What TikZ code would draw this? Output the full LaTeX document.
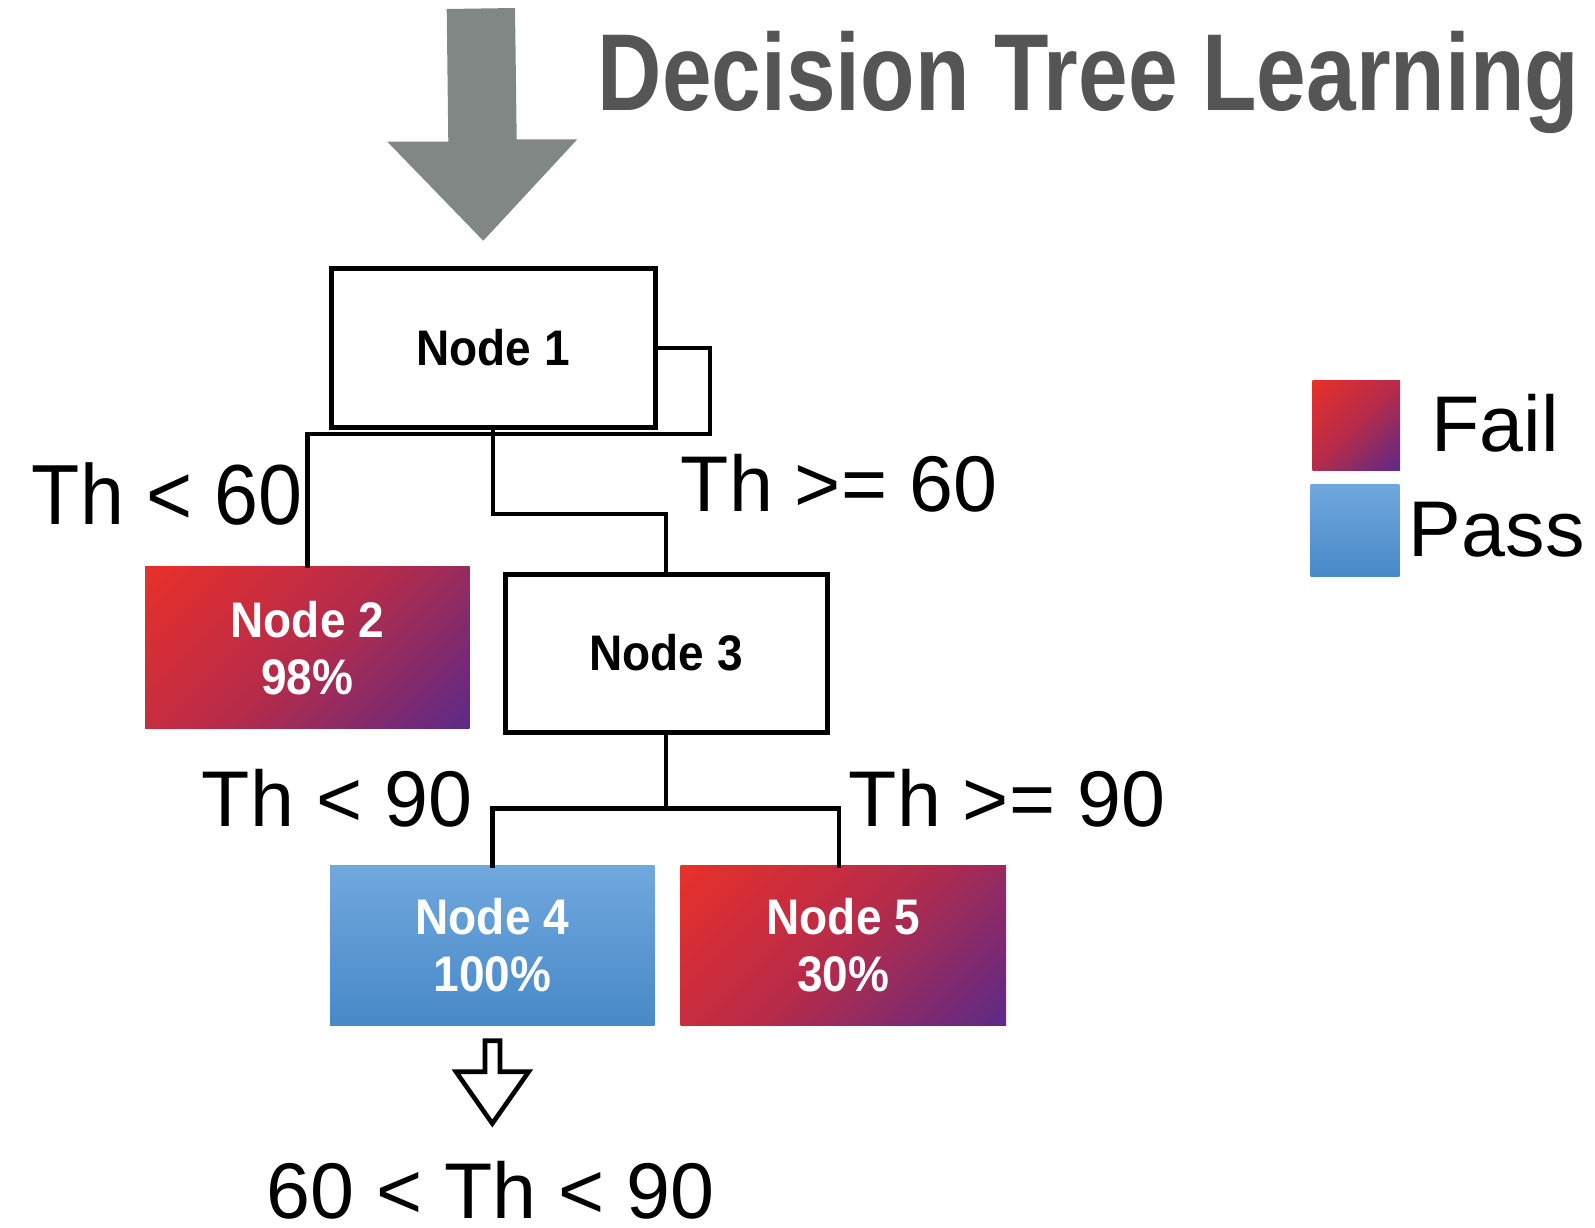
\documentclass[tikz,border=0pt]{standalone}
\usepackage{fontspec}
\setmainfont{Liberation Sans}
\newfontfamily\nodefont{Liberation Sans}[FakeStretch=0.92]
\newfontfamily\titlefont{Liberation Sans}[FakeStretch=0.815]

\definecolor{failA}{HTML}{E8302A}
\definecolor{failM}{HTML}{B52B4A}
\definecolor{failB}{HTML}{5D2A87}
\definecolor{passA}{HTML}{70A8DD}
\definecolor{passB}{HTML}{4889C8}
\definecolor{titlegray}{HTML}{555555}
\definecolor{arrowgray}{HTML}{808784}

% diagonal red-to-purple fill used for the "fail" leaves
\pgfdeclarehorizontalshading{failgrad}{100bp}{%
  color(0bp)=(failA); color(15bp)=(failA); color(50bp)=(failM);
  color(85bp)=(failB); color(100bp)=(failB)}

\tikzset{
  nodetext/.style={font=\nodefont\bfseries\fontsize{25pt}{28.5pt}\selectfont,
    align=center, inner sep=0pt},
  splitbox/.style={nodetext, draw=black, line width=2.5pt, fill=white},
  failleaf/.style={nodetext, shading=failgrad, shading angle=-45, text=white},
  passleaf/.style={nodetext, top color=passA, bottom color=passB, text=white},
  conn/.style={line width=2.2pt, line join=miter, line cap=rect},
  cond/.style={font=\fontsize{39.5pt}{44pt}\selectfont, inner sep=0pt, anchor=base},
}

\begin{document}
\begin{tikzpicture}[x=0.5pt,y=-0.5pt]
  \fill[white] (0,0) rectangle (1595,1227);
  \useasboundingbox (0,0) rectangle (1595,1227);

  % title and the big input arrow
  \node[anchor=base, inner sep=0pt, text=titlegray,
        font=\titlefont\bfseries\fontsize{54.7pt}{60pt}\selectfont]
        (title) at (1088.5,110) {Decision Tree Learning};
  \fill[arrowgray] (446.7,9) -- (515,8) -- (516.7,139.3) -- (577.3,139.3)
        -- (483.3,240.7) -- (387.3,141.7) -- (448.3,141.7) -- cycle;

  % tree nodes
  \node[splitbox, minimum width=162pt, minimum height=79.75pt] (n1) at (493,347.75) {Node 1};
  \node[failleaf, minimum width=162.25pt, minimum height=81.15pt] (n2) at (307.3,647.8) {Node 2\\98\%};
  \node[splitbox, minimum width=161pt, minimum height=79pt] (n3) at (666,653) {Node 3};
  \node[passleaf, minimum width=162.25pt, minimum height=79.65pt] (n4) at (492.3,945.6) {Node 4\\100\%};
  \node[failleaf, minimum width=162.75pt, minimum height=79.65pt] (n5) at (843.3,945.6) {Node 5\\30\%};

  % connectors
  \coordinate (loopR) at (710,434);
  \coordinate (b1) at (493,514.2);
  \coordinate (c0) at (666,808.3);
  \draw[conn] (n1.east) -| (loopR) -| (n2.north);
  \draw[conn] (n1.south) -- (b1) -| (n3.north);
  \draw[conn] (n3.south) -- (c0);
  \draw[conn] (n4.north) |- (c0) -| ([xshift=-2.3pt]n5.north);

  % split conditions
  \node[cond] (l1) at (167,524.3) {\scalebox{1}[1.08]{Th < 60}};
  \node[cond] (l2) at (839,511.7) {Th >= 60};
  \node[cond] (l3) at (337,826.7) {Th < 90};
  \node[cond] (l4) at (1007,826) {Th >= 90};

  % result arrow and range
  \draw[line width=2.3pt, line join=miter] (485,1040.7) -- (500,1040.7) -- (500,1071.7)
        -- (528.7,1071.7) -- (492.3,1123.5) -- (456,1071.7) -- (485,1071.7) -- cycle;
  \node[cond] (range) at (490.7,1218) {60 < Th < 90};

  % legend
  \node[failleaf, minimum width=43.65pt, minimum height=45pt] (legfail) at (1356.35,425) {};
  \node[passleaf, minimum width=44.3pt, minimum height=45.85pt] (legpass) at (1355,530.15) {};
  \node[cond] (failtxt) at (1495,451.7) {Fail};
  \node[cond] (passtxt) at (1496.7,556.7) {Pass};
\end{tikzpicture}
\end{document}
